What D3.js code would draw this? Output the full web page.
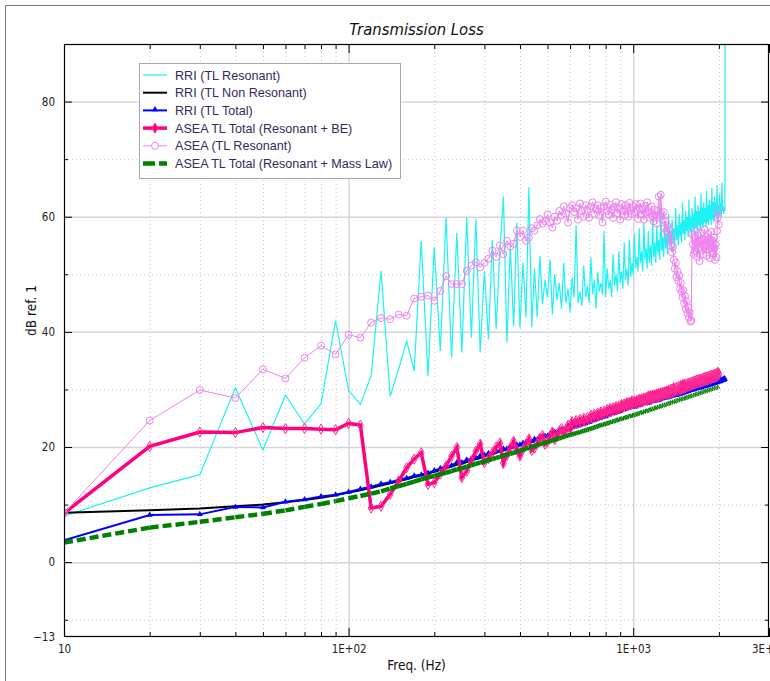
<!DOCTYPE html>
<html>
<head>
<meta charset="utf-8">
<script src="https://cdn.jsdelivr.net/npm/d3@7"></script>
<style>
  body { margin: 0; background: #fff; }
  text { font-family: "DejaVu Sans Condensed", "Liberation Sans", sans-serif; }
</style>
</head>
<body>
<div id="chart"></div>
<script>
// frequency grid (Hz), one point every 10 Hz
const freqs = [
  10, 20, 30, 40, 50, 60, 70, 80, 90, 100,
  110, 120, 130, 140, 150, 160, 170, 180, 190, 200,
  210, 220, 230, 240, 250, 260, 270, 280, 290, 300,
  310, 320, 330, 340, 350, 360, 370, 380, 390, 400,
  410, 420, 430, 440, 450, 460, 470, 480, 490, 500,
  510, 520, 530, 540, 550, 560, 570, 580, 590, 600,
  610, 620, 630, 640, 650, 660, 670, 680, 690, 700,
  710, 720, 730, 740, 750, 760, 770, 780, 790, 800,
  810, 820, 830, 840, 850, 860, 870, 880, 890, 900,
  910, 920, 930, 940, 950, 960, 970, 980, 990, 1000,
  1010, 1020, 1030, 1040, 1050, 1060, 1070, 1080, 1090, 1100,
  1110, 1120, 1130, 1140, 1150, 1160, 1170, 1180, 1190, 1200,
  1210, 1220, 1230, 1240, 1250, 1260, 1270, 1280, 1290, 1300,
  1310, 1320, 1330, 1340, 1350, 1360, 1370, 1380, 1390, 1400,
  1410, 1420, 1430, 1440, 1450, 1460, 1470, 1480, 1490, 1500,
  1510, 1520, 1530, 1540, 1550, 1560, 1570, 1580, 1590, 1600,
  1610, 1620, 1630, 1640, 1650, 1660, 1670, 1680, 1690, 1700,
  1710, 1720, 1730, 1740, 1750, 1760, 1770, 1780, 1790, 1800,
  1810, 1820, 1830, 1840, 1850, 1860, 1870, 1880, 1890, 1900,
  1910, 1920, 1930, 1940, 1950, 1960, 1970, 1980, 1990, 2000,
  2010, 2020, 2030, 2040, 2050, 2060, 2070, 2080, 2090, 2100,
  2110
];

// RRI (TL Resonant)
const rriResonant = [
  8.0, 12.9, 15.2, 30.3, 19.5, 29.0, 24.0, 27.5, 41.9, 29.8,
  27.4, 32.4, 50.6, 28.8, 33.6, 38.4, 33.2, 55.8, 32.3, 54.7,
  36.7, 59.9, 35.5, 57.2, 36.4, 59.9, 39.0, 59.6, 36.4, 50.6,
  38.7, 56.0, 40.5, 54.0, 63.5, 38.2, 55.0, 41.0, 59.0, 40.7,
  52.0, 42.5, 65.1, 40.8, 51.0, 42.5, 53.2, 44.8, 49.0, 46.0,
  52.5, 43.0, 50.0, 45.5, 48.5, 44.0, 52.0, 45.0, 47.5, 43.5,
  49.5, 46.0, 58.5, 45.0, 47.0, 44.5, 51.5, 46.0, 48.0, 45.0,
  53.0, 46.5, 49.0, 44.0, 50.5, 47.0, 48.5, 46.5, 57.5, 46.0,
  51.0, 47.5, 49.0, 46.0, 53.5, 48.0, 50.0, 47.0, 54.0, 48.5,
  50.5, 47.5, 55.5, 49.0, 51.0, 48.0, 56.0, 49.5, 52.0, 50.0,
  57.0, 51.0, 53.0, 50.5, 58.0, 52.0, 54.0, 50.5, 59.0, 52.5,
  54.5, 51.0, 57.5, 52.0, 55.0, 51.5, 60.0, 53.0, 55.5, 52.0,
  58.5, 53.5, 56.0, 52.5, 61.0, 54.0, 56.5, 53.0, 59.0, 54.5,
  57.0, 53.5, 60.5, 55.0, 57.5, 54.0, 59.5, 55.5, 58.0, 54.5,
  61.5, 56.0, 58.5, 55.0, 60.5, 56.5, 59.0, 55.5, 62.5, 57.0,
  59.5, 56.0, 61.0, 57.5, 60.0, 56.5, 63.0, 57.5, 60.0, 56.5,
  61.5, 58.0, 60.5, 57.0, 63.5, 58.0, 61.0, 57.5, 62.0, 58.5,
  61.0, 57.5, 64.0, 58.5, 61.5, 58.0, 62.5, 59.0, 61.5, 58.0,
  64.5, 59.0, 62.0, 58.5, 63.0, 59.5, 62.0, 58.5, 65.0, 59.5,
  62.5, 59.0, 63.5, 60.0, 62.5, 59.5, 65.5, 60.5, 62.0, 60.0,
  64.0, 60.5, 62.5, 60.0, 66.0, 61.0, 62.0, 60.5, 61.5, 61.0,
  150
];

// RRI (TL Non Resonant)
const rriNonResonant = [
  8.6, 9.0, 9.3, 9.7, 10.0, 10.4, 10.8, 11.2, 11.6, 12.1,
  12.5, 12.9, 13.3, 13.7, 14.1, 14.4, 14.8, 15.1, 15.4, 15.7,
  16.0, 16.3, 16.6, 16.9, 17.1, 17.4, 17.6, 17.9, 18.1, 18.4,
  18.6, 18.8, 19.0, 19.2, 19.4, 19.6, 19.8, 20.0, 20.1, 20.3,
  20.5, 20.7, 20.8, 21.0, 21.1, 21.3, 21.4, 21.6, 21.7, 21.9,
  22.0, 22.2, 22.3, 22.5, 22.6, 22.7, 22.8, 23.0, 23.1, 23.2,
  23.3, 23.5, 23.6, 23.7, 23.8, 23.9, 24.0, 24.1, 24.2, 24.3,
  24.5, 24.6, 24.7, 24.8, 24.9, 25.0, 25.1, 25.2, 25.3, 25.4,
  25.5, 25.6, 25.7, 25.8, 25.9, 26.0, 26.1, 26.2, 26.2, 26.3,
  26.4, 26.5, 26.6, 26.6, 26.7, 26.8, 26.9, 26.9, 27.0, 27.1,
  27.1, 27.2, 27.3, 27.3, 27.4, 27.4, 27.5, 27.6, 27.6, 27.7,
  27.7, 27.8, 27.8, 27.9, 27.9, 28.0, 28.0, 28.1, 28.1, 28.2,
  28.2, 28.3, 28.3, 28.4, 28.4, 28.5, 28.5, 28.6, 28.6, 28.7,
  28.7, 28.8, 28.8, 28.8, 28.9, 28.9, 29.0, 29.0, 29.1, 29.1,
  29.1, 29.2, 29.2, 29.3, 29.3, 29.3, 29.4, 29.4, 29.5, 29.5,
  29.6, 29.6, 29.6, 29.7, 29.7, 29.8, 29.8, 29.8, 29.9, 29.9,
  30.0, 30.0, 30.0, 30.1, 30.1, 30.1, 30.2, 30.2, 30.3, 30.3,
  30.3, 30.4, 30.4, 30.4, 30.5, 30.5, 30.5, 30.6, 30.6, 30.6,
  30.7, 30.7, 30.7, 30.8, 30.8, 30.8, 30.9, 30.9, 30.9, 31.0,
  31.0, 31.0, 31.1, 31.1, 31.1, 31.2, 31.2, 31.2, 31.3, 31.3,
  31.3, 31.4, 31.4, 31.4, 31.5, 31.5, 31.5, 31.6, 31.6, 31.6
];

// RRI (TL Total)
const rriTotal = [
  3.8, 8.2, 8.3, 9.6, 9.5, 10.5, 10.9, 11.4, 11.7, 12.2,
  12.7, 13.1, 13.6, 13.9, 14.3, 14.6, 15.0, 15.2, 15.5, 15.9,
  16.3, 16.7, 16.8, 17.3, 17.3, 17.8, 17.9, 18.1, 18.5, 18.6,
  18.9, 18.9, 19.3, 19.3, 19.7, 19.7, 20.0, 20.0, 20.4, 20.4,
  20.7, 20.8, 21.1, 21.0, 21.4, 21.3, 21.7, 21.6, 21.9, 21.9,
  22.3, 22.2, 22.6, 22.5, 22.8, 22.7, 23.1, 23.0, 23.3, 23.2,
  23.6, 23.5, 23.8, 23.7, 24.0, 23.9, 24.2, 24.1, 24.4, 24.3,
  24.7, 24.6, 24.9, 24.8, 25.1, 25.0, 25.3, 25.2, 25.4, 25.3,
  25.7, 25.6, 25.9, 25.8, 26.0, 25.9, 26.2, 26.1, 26.4, 26.2,
  26.6, 26.5, 26.7, 26.6, 26.9, 26.8, 27.0, 26.9, 27.2, 27.0,
  27.2, 27.0, 27.3, 27.2, 27.5, 27.3, 27.6, 27.5, 27.7, 27.6,
  27.7, 27.6, 27.9, 27.7, 28.0, 27.9, 28.1, 28.0, 28.2, 28.1,
  28.3, 28.1, 28.4, 28.2, 28.5, 28.4, 28.6, 28.5, 28.7, 28.6,
  28.7, 28.6, 28.8, 28.7, 29.0, 28.8, 29.1, 28.9, 29.2, 29.0,
  29.2, 29.0, 29.3, 29.1, 29.4, 29.2, 29.5, 29.3, 29.6, 29.4,
  29.7, 29.5, 29.7, 29.6, 29.8, 29.7, 29.9, 29.8, 30.0, 29.9,
  30.1, 30.0, 30.2, 30.0, 30.3, 30.1, 30.4, 30.2, 30.5, 30.3,
  30.4, 30.3, 30.5, 30.4, 30.6, 30.5, 30.7, 30.6, 30.8, 30.6,
  30.9, 30.7, 30.9, 30.8, 31.0, 30.8, 31.1, 30.9, 31.2, 31.0,
  31.2, 31.1, 31.3, 31.1, 31.4, 31.2, 31.5, 31.3, 31.5, 31.4,
  31.6, 31.4, 31.7, 31.5, 31.7, 31.6, 31.8, 31.6, 31.9, 31.8
];

// ASEA TL Total (Resonant + BE)
const aseaTotalBE = [
  8.5, 20.1, 22.6, 22.5, 23.4, 23.2, 23.2, 23.1, 23.0, 24.1,
  23.8, 9.4, 9.7, 11.8, 14.1, 16.4, 17.9, 19.0, 13.5, 13.8,
  15.3, 16.7, 18.4, 19.9, 14.7, 15.8, 17.6, 19.3, 20.5, 17.3,
  18.0, 19.0, 20.0, 20.7, 17.2, 18.6, 19.9, 21.0, 19.5, 18.4,
  19.6, 20.5, 21.4, 19.4, 19.8, 20.6, 21.5, 22.0, 20.5, 20.9,
  21.8, 22.6, 21.3, 21.9, 22.8, 23.2, 22.4, 23.0, 23.8, 23.1,
  24.4, 23.9, 24.6, 24.1, 24.8, 24.3, 25.0, 24.5, 25.1, 24.8,
  25.5, 25.0, 25.7, 25.2, 25.9, 25.4, 26.1, 25.6, 26.2, 25.8,
  26.5, 26.0, 26.7, 26.2, 26.8, 26.3, 27.0, 26.5, 27.1, 26.7,
  27.4, 26.9, 27.5, 27.0, 27.7, 27.2, 27.8, 27.3, 28.0, 27.5,
  28.0, 27.5, 28.1, 27.7, 28.3, 27.8, 28.4, 28.0, 28.5, 28.1,
  28.6, 28.1, 28.8, 28.2, 28.9, 28.4, 29.0, 28.5, 29.1, 28.7,
  29.2, 28.7, 29.3, 28.8, 29.4, 29.0, 29.5, 29.1, 29.6, 29.2,
  29.7, 29.2, 29.8, 29.3, 30.0, 29.4, 30.1, 29.5, 30.2, 29.7,
  30.3, 29.7, 30.4, 29.8, 30.5, 30.0, 30.6, 30.1, 30.7, 30.2,
  30.8, 30.3, 30.9, 30.4, 31.0, 30.5, 31.1, 30.6, 31.2, 30.7,
  31.3, 30.8, 31.4, 30.9, 31.5, 31.0, 31.6, 31.1, 31.7, 31.2,
  31.7, 31.2, 31.8, 31.3, 31.9, 31.4, 32.0, 31.5, 32.1, 31.6,
  32.1, 31.6, 32.2, 31.7, 32.3, 31.8, 32.4, 31.9, 32.5, 32.0,
  32.5, 32.0, 32.6, 32.1, 32.7, 32.2, 32.8, 32.3, 32.9, 32.6
];

// ASEA (TL Resonant)
const aseaResonant = [
  8.5, 24.6, 29.9, 28.5, 33.5, 31.9, 35.5, 37.6, 36.1, 39.5,
  39.0, 41.6, 42.4, 42.2, 43.0, 42.8, 45.8, 46.1, 46.3, 45.4,
  47.1, 49.7, 48.3, 48.3, 48.3, 50.6, 51.5, 52.1, 51.2, 52.0,
  52.7, 54.1, 53.0, 55.0, 53.5, 55.8, 54.8, 55.3, 57.6, 56.5,
  57.6, 55.8, 56.4, 58.0, 57.6, 58.5, 59.6, 58.8, 59.2, 60.4,
  59.0, 58.1, 60.0, 59.3, 61.0, 60.2, 61.8, 60.5, 59.0, 61.5,
  62.0, 60.8, 61.5, 59.5, 62.3, 61.0, 60.0, 62.0, 61.2, 59.8,
  61.8, 62.5, 60.5, 61.3, 62.0, 60.2, 61.5, 59.0, 61.8, 62.6,
  61.0, 60.3, 62.1, 61.2, 59.8, 61.7, 62.5, 60.6, 61.4, 59.5,
  62.2, 61.0, 60.2, 62.0, 61.5, 60.0, 62.4, 61.1, 60.5, 61.8,
  60.8, 62.2, 61.0, 59.6, 61.5, 62.3, 60.4, 61.2, 59.5, 61.9,
  60.7, 62.5, 61.0, 59.8, 60.6, 61.8, 60.0, 59.2, 61.2, 60.4,
  58.8, 61.0, 63.5, 60.2, 63.8, 60.5, 59.5, 60.8, 58.0, 59.2,
  57.6, 58.4, 56.5, 57.8, 55.0, 56.2, 53.8, 54.8, 52.5, 51.0,
  52.0, 49.5, 50.5, 48.9, 49.8, 47.5, 48.5, 47.0, 46.0, 47.2,
  45.0, 46.2, 44.0, 45.3, 43.2, 44.2, 42.5, 43.4, 41.8, 42.0,
  57.0, 55.2, 53.5, 56.3, 54.0, 57.5, 55.5, 53.0, 56.8, 54.5,
  52.3, 55.8, 57.2, 54.2, 56.0, 53.5, 55.3, 57.8, 54.8, 56.5,
  53.2, 55.0, 57.0, 54.3, 56.2, 52.8, 55.5, 57.4, 54.0, 55.8,
  53.6, 56.4, 54.6, 52.5, 55.2, 53.0, 57.5, 59.8, 61.0, 58.6
];

// ASEA TL Total (Resonant + Mass Law)
const aseaTotalML = [
  3.4, 6.0, 7.0, 7.8, 8.4, 9.0, 9.6, 10.1, 10.6, 11.1,
  11.5, 11.9, 12.3, 12.8, 13.2, 13.6, 14.0, 14.4, 14.7, 15.0,
  15.3, 15.5, 15.8, 16.1, 16.3, 16.6, 16.8, 17.1, 17.3, 17.5,
  17.7, 17.9, 18.1, 18.3, 18.5, 18.7, 18.8, 19.0, 19.2, 19.4,
  19.5, 19.7, 19.9, 20.0, 20.2, 20.3, 20.5, 20.6, 20.7, 20.9,
  21.0, 21.1, 21.3, 21.4, 21.5, 21.6, 21.8, 21.9, 22.0, 22.1,
  22.2, 22.3, 22.4, 22.5, 22.6, 22.7, 22.8, 22.9, 23.0, 23.1,
  23.2, 23.3, 23.4, 23.5, 23.6, 23.7, 23.8, 23.9, 23.9, 24.0,
  24.1, 24.2, 24.3, 24.4, 24.4, 24.5, 24.6, 24.7, 24.8, 24.8,
  24.9, 25.0, 25.0, 25.1, 25.2, 25.3, 25.3, 25.4, 25.5, 25.5,
  25.6, 25.6, 25.7, 25.8, 25.9, 25.9, 26.0, 26.1, 26.1, 26.2,
  26.2, 26.3, 26.4, 26.4, 26.5, 26.6, 26.6, 26.7, 26.7, 26.8,
  26.9, 26.9, 27.0, 27.0, 27.1, 27.2, 27.2, 27.3, 27.3, 27.4,
  27.4, 27.5, 27.5, 27.6, 27.7, 27.7, 27.8, 27.8, 27.9, 27.9,
  28.0, 28.0, 28.1, 28.1, 28.2, 28.2, 28.3, 28.3, 28.4, 28.4,
  28.5, 28.5, 28.5, 28.6, 28.6, 28.7, 28.7, 28.8, 28.8, 28.9,
  28.9, 29.0, 29.0, 29.0, 29.1, 29.1, 29.2, 29.2, 29.3, 29.3,
  29.3, 29.4, 29.4, 29.5, 29.5, 29.6, 29.6, 29.6, 29.7, 29.7,
  29.8, 29.8, 29.8, 29.9, 29.9, 29.9, 30.0, 30.0, 30.1, 30.1,
  30.1, 30.2, 30.2, 30.2, 30.3, 30.3, 30.4, 30.4, 30.4, 30.5
];

const seriesNames = [
  "RRI (TL Resonant)",
  "RRI (TL Non Resonant)",
  "RRI (TL Total)",
  "ASEA TL Total (Resonant + BE)",
  "ASEA (TL Resonant)",
  "ASEA TL Total (Resonant + Mass Law)"
];

const xMajorTicks = [10, 100, 1000, 3000];
const xMajorLabels = ["10", "1E+02", "1E+03", "3E+03"];
const xMinorTicks = [20, 30, 40, 50, 60, 70, 80, 90, 200, 300, 400, 500, 600, 700, 800, 900, 2000];
const yMajorTicks = [0, 20, 40, 60, 80];
const yMinorTicks = [-10, 10, 30, 50, 70];
const yLabelTicks = [80, 60, 40, 20, 0, -13];

const w = 770;
const h = 681;

const x = d3.scaleLog().domain([10, 3000]).range([64, 769]);
const y = d3.scaleLinear().domain([-13, 90]).range([637, 44]);
const plotL = x.range()[0], plotR = x.range()[1];
const plotT = y.range()[1], plotB = y.range()[0];
const innerH = plotB - plotT, innerW = plotR - plotL;

const svg = d3.select("#chart").append("svg")
  .attr("width", w)
  .attr("height", h);

svg.append("rect").attr("width", w).attr("height", h).attr("fill", "#fff");

// outer frame of the chart control
svg.append("rect")
  .attr("x", 5.5).attr("y", 5.5)
  .attr("width", w + 20).attr("height", h + 20)
  .attr("fill", "none").attr("stroke", "#7a7a7a");

// title
svg.append("text")
  .attr("x", (plotL + plotR) / 2).attr("y", 35)
  .attr("text-anchor", "middle")
  .attr("font-style", "italic")
  .attr("font-size", 16.5)
  .attr("fill", "#111")
  .text("Transmission Loss");

// grid lines
function grid(g, axis, dashed, color, width) {
  g.call(axis);
  g.select(".domain").remove();
  g.selectAll("line")
    .attr("stroke", color)
    .attr("stroke-width", width)
    .attr("stroke-dasharray", dashed ? "1,3" : null);
}

svg.append("g").attr("transform", `translate(0,${plotB})`)
  .call(grid, d3.axisBottom(x).tickValues(xMinorTicks).tickSize(-innerH).tickFormat(""), true, "#c4c4c4", 1);
svg.append("g").attr("transform", `translate(${plotL},0)`)
  .call(grid, d3.axisLeft(y).tickValues(yMinorTicks).tickSize(-innerW).tickFormat(""), true, "#c4c4c4", 1);
svg.append("g").attr("transform", `translate(0,${plotB})`)
  .call(grid, d3.axisBottom(x).tickValues([100, 1000]).tickSize(-innerH).tickFormat(""), false, "#d6d6d6", 1.5);
svg.append("g").attr("transform", `translate(${plotL},0)`)
  .call(grid, d3.axisLeft(y).tickValues(yMajorTicks).tickSize(-innerW).tickFormat(""), false, "#d6d6d6", 1.5);

// data
svg.append("clipPath").attr("id", "plot-clip")
  .append("rect").attr("x", plotL).attr("y", plotT).attr("width", innerW).attr("height", innerH);

const plot = svg.append("g").attr("clip-path", "url(#plot-clip)");

const line = d3.line().x(d => x(d[0])).y(d => y(d[1]));
const pts = arr => arr.map((v, i) => [freqs[i], v]);

// RRI resonant
plot.append("path").datum(pts(rriResonant))
  .attr("d", line).attr("fill", "none")
  .attr("stroke", "#1ef2f2").attr("stroke-width", 1.2);

// RRI non resonant
plot.append("path").datum(pts(rriNonResonant))
  .attr("d", line).attr("fill", "none")
  .attr("stroke", "#000").attr("stroke-width", 2);

// RRI total
plot.append("path").datum(pts(rriTotal))
  .attr("d", line).attr("fill", "none")
  .attr("stroke", "#0000ff").attr("stroke-width", 2);
plot.append("g").selectAll("path").data(pts(rriTotal)).enter().append("path")
  .attr("transform", d => `translate(${x(d[0])},${y(d[1])})`)
  .attr("d", d3.symbol(d3.symbolTriangle, 16))
  .attr("fill", "#0000ff");

// ASEA total (BE)
plot.append("path").datum(pts(aseaTotalBE))
  .attr("d", line).attr("fill", "none")
  .attr("stroke", "#ff0080").attr("stroke-width", 3.5);
plot.append("g").selectAll("path").data(pts(aseaTotalBE)).enter().append("path")
  .attr("transform", d => `translate(${x(d[0])},${y(d[1])})`)
  .attr("d", d3.symbol(d3.symbolDiamond, 30))
  .attr("fill", "none").attr("stroke", "#ff2a94").attr("stroke-width", 1);

// ASEA resonant
plot.append("path").datum(pts(aseaResonant))
  .attr("d", line).attr("fill", "none")
  .attr("stroke", "#ee82ee").attr("stroke-width", 1);
plot.append("g").selectAll("circle").data(pts(aseaResonant)).enter().append("circle")
  .attr("cx", d => x(d[0])).attr("cy", d => y(d[1])).attr("r", 3.5)
  .attr("fill", "none").attr("stroke", "#ee82ee").attr("stroke-width", 1);

// ASEA total (mass law) - dash pattern restarts on every segment
const ml = pts(aseaTotalML);
plot.append("g").selectAll("line").data(d3.pairs(ml)).enter().append("line")
  .attr("x1", d => x(d[0][0])).attr("y1", d => y(d[0][1]))
  .attr("x2", d => x(d[1][0])).attr("y2", d => y(d[1][1]))
  .attr("stroke", "#008000").attr("stroke-width", 4.5)
  .attr("stroke-dasharray", "9,4");

// inward ticks on all four sides
function ticks(g, axis) {
  g.call(axis);
  g.select(".domain").remove();
  g.selectAll("line").attr("stroke", "#000");
}
svg.append("g").attr("transform", `translate(0,${plotB})`)
  .call(ticks, d3.axisBottom(x).tickValues(xMajorTicks).tickSize(-9).tickFormat(""));
svg.append("g").attr("transform", `translate(0,${plotB})`)
  .call(ticks, d3.axisBottom(x).tickValues(xMinorTicks).tickSize(-5).tickFormat(""));
svg.append("g").attr("transform", `translate(0,${plotT})`)
  .call(ticks, d3.axisTop(x).tickValues(xMajorTicks).tickSize(-9).tickFormat(""));
svg.append("g").attr("transform", `translate(0,${plotT})`)
  .call(ticks, d3.axisTop(x).tickValues(xMinorTicks).tickSize(-5).tickFormat(""));
svg.append("g").attr("transform", `translate(${plotL},0)`)
  .call(ticks, d3.axisLeft(y).tickValues(yMajorTicks).tickSize(-8).tickFormat(""));
svg.append("g").attr("transform", `translate(${plotL},0)`)
  .call(ticks, d3.axisLeft(y).tickValues(yMinorTicks).tickSize(-4).tickFormat(""));
svg.append("g").attr("transform", `translate(${plotR},0)`)
  .call(ticks, d3.axisRight(y).tickValues(yMajorTicks).tickSize(-8).tickFormat(""));
svg.append("g").attr("transform", `translate(${plotR},0)`)
  .call(ticks, d3.axisRight(y).tickValues(yMinorTicks).tickSize(-4).tickFormat(""));

// plot border
svg.append("rect")
  .attr("x", plotL + 0.5).attr("y", plotT + 0.5)
  .attr("width", innerW - 1).attr("height", innerH - 1)
  .attr("fill", "none").attr("stroke", "#000").attr("stroke-width", 1.2);

// tick labels
const xLab = svg.append("g").attr("transform", `translate(0,${plotB})`)
  .call(d3.axisBottom(x).tickValues(xMajorTicks).tickSize(0).tickPadding(8)
    .tickFormat((d, i) => xMajorLabels[i]));
xLab.select(".domain").remove();
xLab.selectAll("text").attr("font-size", 11.5).attr("fill", "#222")
  .style("font-family", '"DejaVu Sans Condensed", sans-serif');

const yLab = svg.append("g").attr("transform", `translate(${plotL},0)`)
  .call(d3.axisLeft(y).tickValues(yLabelTicks).tickSize(0).tickPadding(9));
yLab.select(".domain").remove();
yLab.selectAll("text").attr("font-size", 11.5).attr("fill", "#222")
  .style("font-family", '"DejaVu Sans Condensed", sans-serif');

// axis titles
svg.append("text")
  .attr("x", (plotL + plotR) / 2).attr("y", 670)
  .attr("text-anchor", "middle").attr("font-size", 13.5).attr("fill", "#111")
  .text("Freq. (Hz)");
svg.append("text")
  .attr("transform", `translate(36,${(plotT + plotB) / 2 - 30}) rotate(-90)`)
  .attr("text-anchor", "middle").attr("font-size", 13.5).attr("fill", "#111")
  .text("dB ref. 1");

// legend
const legend = svg.append("g").attr("transform", "translate(139,63)");
legend.append("rect")
  .attr("x", 0.5).attr("y", 0.5).attr("width", 261).attr("height", 115)
  .attr("fill", "#fff").attr("stroke", "#a8a8a8");

const legendStyle = [
  { color: "#1ef2f2", width: 1.2 },
  { color: "#000", width: 2 },
  { color: "#0000ff", width: 2, marker: "tri" },
  { color: "#ff0080", width: 3.5, marker: "dia" },
  { color: "#ee82ee", width: 1, marker: "circ" },
  { color: "#008000", width: 4.5, dash: "12,4" }
];

seriesNames.forEach((name, i) => {
  const s = legendStyle[i];
  const row = legend.append("g").attr("transform", `translate(0,${12 + i * 17.7})`);
  row.append("line").attr("x1", 4).attr("x2", 28)
    .attr("stroke", s.color).attr("stroke-width", s.width)
    .attr("stroke-dasharray", s.dash || null);
  if (s.marker === "tri") {
    row.append("path").attr("transform", "translate(16,-1)")
      .attr("d", d3.symbol(d3.symbolTriangle, 16)).attr("fill", s.color);
  } else if (s.marker === "dia") {
    row.append("path").attr("transform", "translate(16,0)")
      .attr("d", d3.symbol(d3.symbolDiamond, 30)).attr("fill", s.color).attr("stroke", "#ff2a94");
  } else if (s.marker === "circ") {
    row.append("circle").attr("cx", 16).attr("r", 3.5)
      .attr("fill", "#fff").attr("stroke", s.color);
  }
  row.append("text").attr("x", 36).attr("y", 4.5)
    .attr("font-size", 12.6).attr("fill", "#302c5c")
    .style("font-family", '"Liberation Sans", Arial, sans-serif')
    .text(name);
});
</script>
</body>
</html>
